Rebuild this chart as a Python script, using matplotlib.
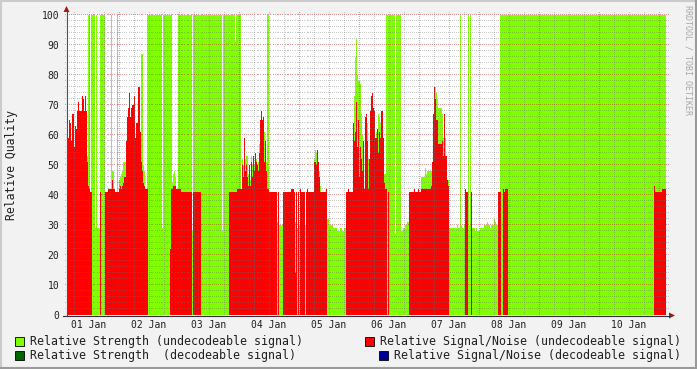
import numpy as np
import matplotlib
matplotlib.use('Agg')
import matplotlib.pyplot as plt
from matplotlib.patches import Rectangle, Polygon

plt.rcParams['font.family'] = 'DejaVu Sans Mono'

# time in hours since 01 Jan 00:00, one rrd step = 24 min
t_first = 3.2
step_h = 0.4

# run lengths (in rrd steps) and the values held during each run
steps = [1, 1, 1, 1, 1, 2, 1, 1, 1, 1, 1, 3, 1, 1, 1, 1,
         1, 1, 1, 1, 1, 1, 3, 1, 1, 3, 1, 4, 3, 3, 1, 1,
         1, 1, 2, 1, 1, 1, 1, 1, 1, 1, 2, 1, 1, 1, 1, 1,
         1, 2, 1, 1, 2, 2, 1, 1, 1, 1, 1, 2, 1, 14, 1, 7,
         1, 1, 1, 1, 1, 1, 2, 3, 11, 1, 8, 21, 1, 6, 6, 1,
         1, 4, 1, 1, 1, 1, 1, 1, 1, 1, 1, 1, 1, 1, 1, 1,
         1, 1, 1, 1, 1, 1, 1, 1, 1, 1, 1, 1, 2, 8, 1, 1,
         4, 8, 3, 1, 1, 1, 1, 1, 1, 1, 4, 1, 1, 1, 6, 1,
         1, 1, 1, 1, 1, 1, 5, 1, 2, 4, 4, 3, 2, 2, 2, 2,
         1, 4, 1, 1, 1, 1, 1, 1, 1, 1, 1, 1, 1, 1, 1, 1,
         1, 1, 1, 1, 1, 1, 1, 1, 1, 1, 1, 1, 1, 1, 2, 1,
         1, 1, 1, 1, 1, 6, 1, 5, 2, 2, 2, 2, 5, 1, 3, 1,
         2, 4, 1, 1, 4, 1, 1, 1, 1, 1, 1, 1, 4, 1, 1, 1,
         1, 1, 1, 1, 8, 1, 2, 1, 1, 2, 1, 1, 2, 1, 1, 1,
         1, 3, 1, 1, 3, 4, 3, 1, 2, 1, 3, 1, 1, 2, 2, 1,
         2, 1, 1, 3, 146, 1, 7, 4]

# relative strength (undecodeable signal)
strength = [50, 0, 0, 0, 0, 0, 0, 0, 0, 0, 0, 0, 0, 0, 0, 0,
            0, 53, 100, 100, 0, 100, 100, 29, 100, 29, 100, 100, 0, 0, 100, 48,
            48, 0, 0, 100, 0, 45, 46, 47, 48, 51, 51, 0, 0, 0, 0, 0,
            0, 0, 0, 0, 0, 0, 0, 87, 87, 50, 48, 0, 100, 100, 29, 100,
            100, 100, 44, 47, 48, 46, 0, 100, 100, 28, 100, 100, 28, 100, 100, 91,
            100, 100, 0, 52, 50, 54, 52, 53, 53, 47, 50, 45, 53, 50, 53, 50,
            54, 52, 50, 51, 57, 0, 0, 0, 0, 61, 0, 51, 100, 0, 31, 0,
            30, 0, 0, 0, 31, 0, 29, 0, 30, 0, 0, 30, 0, 0, 0, 52,
            55, 54, 0, 51, 48, 43, 0, 0, 32, 30, 29, 28, 29, 28, 29, 0,
            0, 0, 56, 73, 86, 92, 80, 78, 78, 77, 67, 60, 0, 0, 0, 0,
            64, 52, 0, 0, 0, 0, 0, 0, 0, 61, 62, 67, 66, 64, 0, 0,
            47, 47, 100, 100, 100, 100, 27, 100, 28, 29, 30, 31, 0, 0, 0, 0,
            0, 46, 49, 47, 48, 48, 0, 0, 76, 76, 74, 72, 69, 67, 59, 0,
            59, 53, 45, 45, 29, 30, 29, 100, 30, 29, 30, 30, 0, 100, 30, 100,
            0, 29, 28, 29, 28, 29, 30, 31, 30, 29, 30, 32, 31, 30, 0, 100,
            100, 100, 100, 100, 100, 100, 100, 100]

# relative signal/noise (undecodeable signal)
snr = [46, 59, 65, 64, 58, 67, 56, 63, 62, 68, 71, 68, 73, 72, 68, 73,
       68, 51, 43, 42, 41, 41, 0, 0, 0, 0, 41, 0, 41, 42, 42, 45,
       42, 42, 41, 41, 41, 42, 43, 42, 43, 44, 46, 58, 66, 69, 74, 66,
       69, 70, 73, 59, 64, 76, 61, 51, 48, 44, 43, 42, 42, 0, 0, 0,
       22, 42, 42, 43, 43, 43, 42, 42, 41, 0, 41, 0, 0, 0, 41, 41,
       41, 42, 42, 50, 46, 59, 48, 50, 46, 43, 50, 43, 51, 46, 53, 48,
       54, 51, 50, 48, 54, 65, 68, 65, 66, 51, 58, 48, 42, 41, 0, 41,
       0, 41, 42, 41, 14, 41, 0, 41, 0, 42, 41, 0, 41, 42, 41, 51,
       51, 50, 55, 51, 46, 41, 41, 42, 0, 0, 0, 0, 0, 0, 0, 41,
       42, 41, 64, 58, 61, 71, 56, 65, 46, 56, 52, 48, 58, 42, 66, 67,
       58, 42, 52, 68, 73, 74, 69, 68, 59, 59, 62, 54, 61, 59, 68, 59,
       44, 42, 42, 0, 41, 0, 0, 0, 0, 0, 0, 0, 41, 42, 41, 42,
       41, 42, 42, 42, 42, 43, 51, 67, 76, 72, 65, 65, 57, 58, 53, 67,
       53, 53, 45, 43, 0, 0, 0, 0, 0, 0, 0, 42, 41, 0, 0, 0,
       41, 0, 0, 0, 0, 0, 0, 0, 0, 0, 0, 0, 0, 0, 41, 41,
       0, 42, 41, 42, 0, 43, 41, 42]

assert len(steps) == len(strength) == len(snr)

days = ['01 Jan', '02 Jan', '03 Jan', '04 Jan', '05 Jan',
        '06 Jan', '07 Jan', '08 Jan', '09 Jan', '10 Jan']
y_ticks = list(range(0, 101, 10))
legend_names = ['Relative Strength (undecodeable signal)',
                'Relative Signal/Noise (undecodeable signal)',
                'Relative Strength  (decodeable signal)',
                'Relative Signal/Noise (decodeable signal)']
legend_colors = ['#7FFF00', '#FF0000', '#006400', '#000099']

edges = t_first + step_h * np.concatenate([[0], np.cumsum(steps)])

W, H = 697, 369
fig = plt.figure(figsize=(W / 100, H / 100), dpi=100, facecolor='#F2F2F2')
ax = fig.add_axes([67 / W, 1 - 315 / H, 599 / W, 300 / H])
ax.set_facecolor('white')

ax.stairs(strength, edges, baseline=0, fill=True, color='#7FFF00', lw=0, zorder=1)
ax.stairs(snr, edges, baseline=0, fill=True, color='#FF0000', lw=0, zorder=2)
ax.set_xlim(edges[0], edges[-1])
ax.set_ylim(0, 100)

# rrdtool style dotted grid (one pixel dot every two pixels), over the areas
dot_x = np.arange(edges[0] - 1.0, edges[-1] + 1.6, 2 * step_h)
dot_y = np.arange(-0.8, 100.8, 2 / 3)
grid_style = {'minor': ('#707070', 0.38), 'major': ('#C02828', 0.45)}
for kind in ('minor', 'major'):
    col, al = grid_style[kind]
    ys = [y for y in range(2, 101, 2) if (y % 10 == 0) == (kind == 'major')]
    hs = [h for h in range(6, 243, 6) if (h % 24 == 0) == (kind == 'major')]
    gx, gy = np.meshgrid(dot_x, ys)
    ax.plot(gx.ravel(), gy.ravel(), ',', color=col, alpha=al,
            clip_on=False, zorder=3)
    vx, vy = np.meshgrid(hs, dot_y)
    ax.plot(vx.ravel(), vy.ravel(), ',', color=col, alpha=al,
            clip_on=False, zorder=3)

for s in ax.spines.values():
    s.set_visible(False)
ax.set_yticks(y_ticks)
ax.set_yticklabels([str(v) for v in y_ticks], fontsize=7, color='#202020')
ax.set_xticks([12 + 24 * i for i in range(len(days))])
ax.set_xticklabels(days, fontsize=7, color='#202020')
ax.tick_params(axis='y', length=0, pad=5.5)
ax.tick_params(axis='x', length=0, pad=3.5)

fig.text(12 / W, 1 - 165 / H, 'Relative Quality', rotation=90,
         ha='center', va='center', fontsize=8.3, color='#202020')
fig.text(688 / W, 1 - 60 / H, 'RRDTOOL / TOBI OETIKER', rotation=270,
         ha='center', va='center', fontsize=6, color='#A8A8A8')

# overlay in pixel coordinates for frame, axis arrows and legend
ov = fig.add_axes([0, 0, 1, 1], zorder=5)
ov.set_xlim(0, W)
ov.set_ylim(H, 0)
ov.axis('off')

ov.plot([0, W], [0.7, 0.7], color='#CBCBCB', lw=1.5)
ov.plot([0.7, 0.7], [0, H], color='#CBCBCB', lw=1.5)
ov.plot([0, W], [H - 0.7, H - 0.7], color='#9A9A9A', lw=1.5)
ov.plot([W - 0.7, W - 0.7], [0, H], color='#9A9A9A', lw=1.5)

ov.plot([66.5, 66.5], [315.5, 11], color='#505050', lw=0.8)
ov.plot([63, 670], [315.5, 315.5], color='#303040', lw=0.8)
ov.add_patch(Polygon([[63.5, 12], [69.5, 12], [66.5, 6]], closed=True,
                     color='#A01818', lw=0))
ov.add_patch(Polygon([[669, 312.5], [669, 318.5], [675, 315.5]], closed=True,
                     color='#A01818', lw=0))

rows = [341, 341, 355, 355]
renderer = fig.canvas.get_renderer()
for i, (name, col, yc) in enumerate(zip(legend_names, legend_colors, rows)):
    if i % 2 == 0:
        txt = ov.text(30, yc, name, ha='left', va='center', fontsize=8.4, color='#202020')
        bx = 15
    else:
        txt = ov.text(681, yc, name, ha='right', va='center', fontsize=8.4, color='#202020')
        bb = txt.get_window_extent(renderer)
        bx = bb.x0 - 15
    ov.add_patch(Rectangle((bx, yc - 4.5), 9, 9, facecolor=col,
                           edgecolor='#000000', lw=0.6))

fig.savefig('out.png', dpi=100, facecolor=fig.get_facecolor())
